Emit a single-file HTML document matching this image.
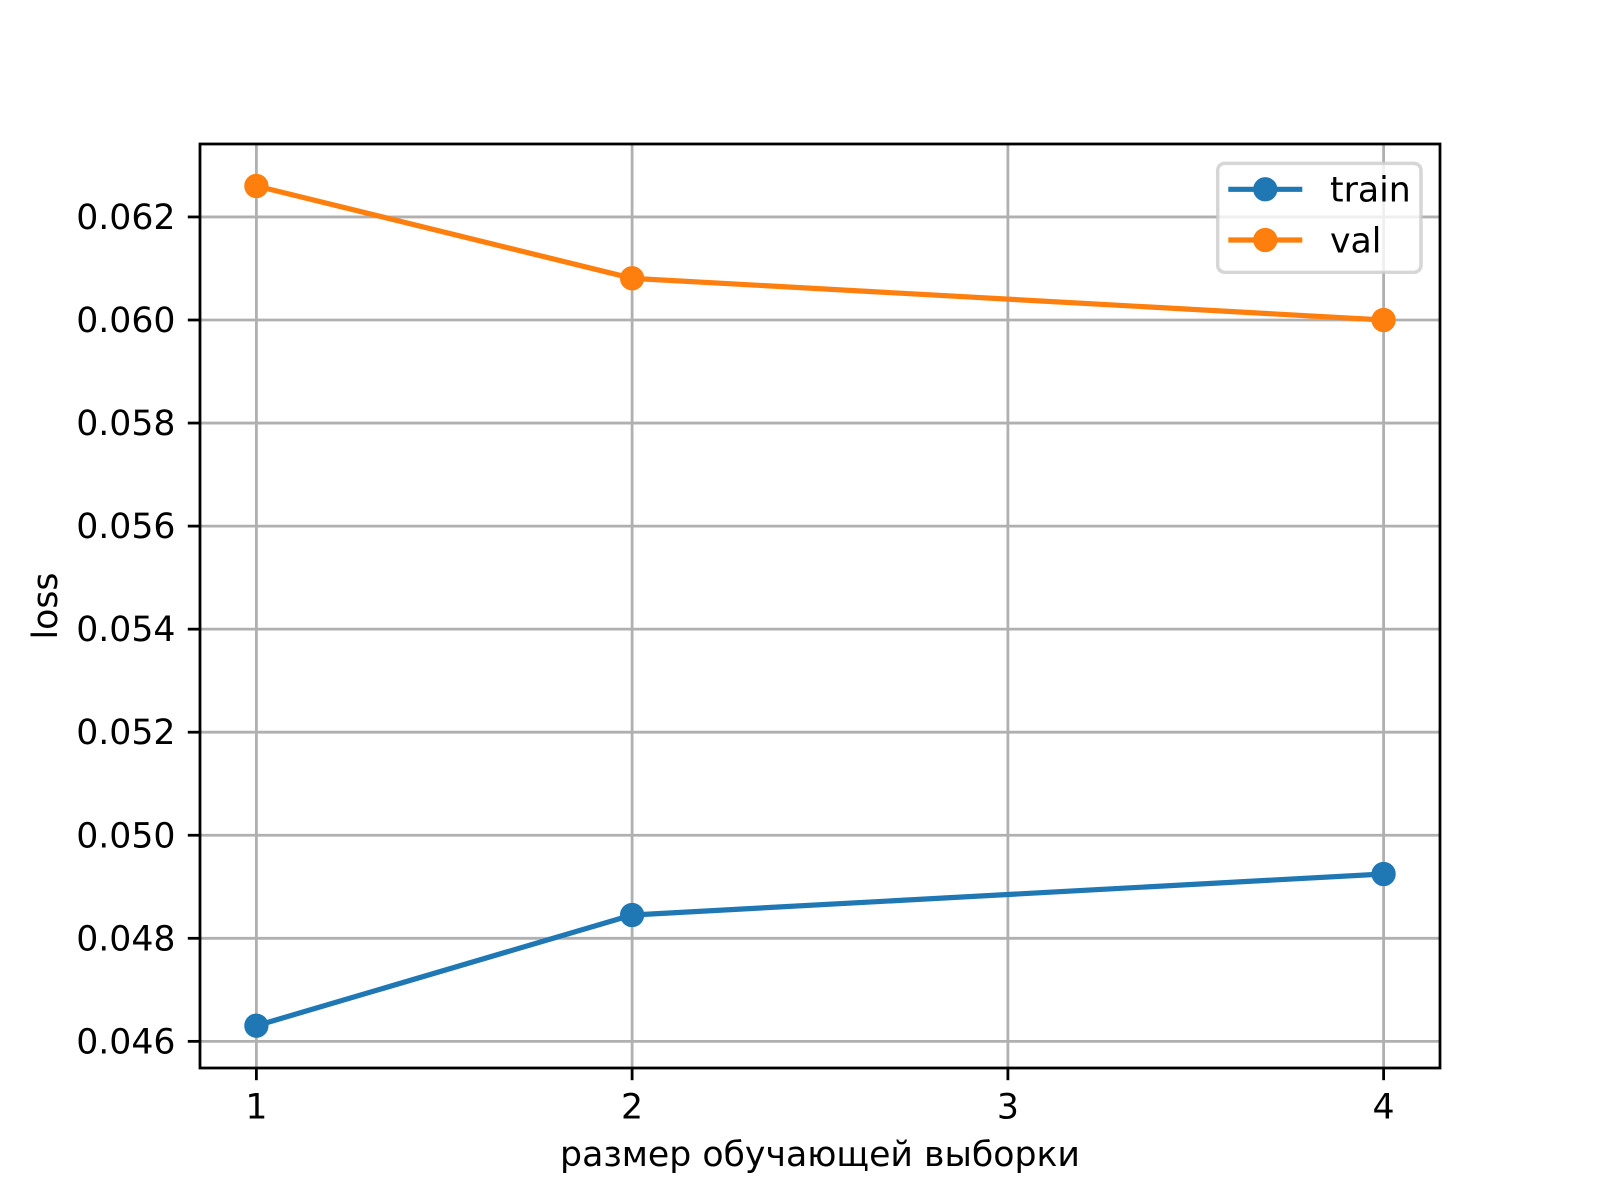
<!DOCTYPE html>
<html>
<head>
<meta charset="utf-8">
<style>
  html, body { margin: 0; padding: 0; background: #ffffff; }
  svg { display: block; }
  text { font-family: "DejaVu Sans", "Liberation Sans", sans-serif; fill: #000; }
</style>
</head>
<body>
<svg width="1600" height="1200" viewBox="0 0 1600 1200" xmlns="http://www.w3.org/2000/svg">
  <rect x="0" y="0" width="1600" height="1200" fill="#ffffff"/>
  <!-- axes background -->
  <rect x="200" y="144" width="1240" height="924" fill="#ffffff"/>

  <!-- grid lines -->
  <g stroke="#b0b0b0" stroke-width="2.78" fill="none">
    <line x1="256.4" y1="144" x2="256.4" y2="1068"/>
    <line x1="632.1" y1="144" x2="632.1" y2="1068"/>
    <line x1="1007.9" y1="144" x2="1007.9" y2="1068"/>
    <line x1="1383.6" y1="144" x2="1383.6" y2="1068"/>
    <line x1="200" y1="216.95" x2="1440" y2="216.95"/>
    <line x1="200" y1="320" x2="1440" y2="320"/>
    <line x1="200" y1="423.05" x2="1440" y2="423.05"/>
    <line x1="200" y1="526.1" x2="1440" y2="526.1"/>
    <line x1="200" y1="629.15" x2="1440" y2="629.15"/>
    <line x1="200" y1="732.2" x2="1440" y2="732.2"/>
    <line x1="200" y1="835.25" x2="1440" y2="835.25"/>
    <line x1="200" y1="938.3" x2="1440" y2="938.3"/>
    <line x1="200" y1="1041.35" x2="1440" y2="1041.35"/>
  </g>

  <!-- train series -->
  <polyline points="256.4,1025.7 632.1,915 1383.6,874" fill="none" stroke="#1f77b4" stroke-width="5.2" stroke-linejoin="round"/>
  <g fill="#1f77b4" stroke="#1f77b4" stroke-width="3.47">
    <circle cx="256.4" cy="1025.7" r="10.4"/>
    <circle cx="632.1" cy="915" r="10.4"/>
    <circle cx="1383.6" cy="874" r="10.4"/>
  </g>

  <!-- val series -->
  <polyline points="256.4,186 632.1,278.3 1383.6,320" fill="none" stroke="#ff7f0e" stroke-width="5.2" stroke-linejoin="round"/>
  <g fill="#ff7f0e" stroke="#ff7f0e" stroke-width="3.47">
    <circle cx="256.4" cy="186" r="10.4"/>
    <circle cx="632.1" cy="278.3" r="10.4"/>
    <circle cx="1383.6" cy="320" r="10.4"/>
  </g>

  <!-- spines -->
  <rect x="200" y="144" width="1240" height="924" fill="none" stroke="#000" stroke-width="2.78" stroke-linecap="square"/>

  <!-- ticks -->
  <g stroke="#000" stroke-width="2.78">
    <line x1="256.4" y1="1068" x2="256.4" y2="1080.2"/>
    <line x1="632.1" y1="1068" x2="632.1" y2="1080.2"/>
    <line x1="1007.9" y1="1068" x2="1007.9" y2="1080.2"/>
    <line x1="1383.6" y1="1068" x2="1383.6" y2="1080.2"/>
    <line x1="187.8" y1="216.95" x2="200" y2="216.95"/>
    <line x1="187.8" y1="320" x2="200" y2="320"/>
    <line x1="187.8" y1="423.05" x2="200" y2="423.05"/>
    <line x1="187.8" y1="526.1" x2="200" y2="526.1"/>
    <line x1="187.8" y1="629.15" x2="200" y2="629.15"/>
    <line x1="187.8" y1="732.2" x2="200" y2="732.2"/>
    <line x1="187.8" y1="835.25" x2="200" y2="835.25"/>
    <line x1="187.8" y1="938.3" x2="200" y2="938.3"/>
    <line x1="187.8" y1="1041.35" x2="200" y2="1041.35"/>
  </g>

  <!-- x tick labels -->
  <g font-size="34.7" text-anchor="middle">
    <text x="256.4" y="1118.5">1</text>
    <text x="632.1" y="1118.5">2</text>
    <text x="1007.9" y="1118.5">3</text>
    <text x="1383.6" y="1118.5">4</text>
  </g>

  <!-- y tick labels -->
  <g font-size="34.7" text-anchor="end">
    <text x="175.5" y="229">0.062</text>
    <text x="175.5" y="332">0.060</text>
    <text x="175.5" y="435">0.058</text>
    <text x="175.5" y="538.1">0.056</text>
    <text x="175.5" y="641.2">0.054</text>
    <text x="175.5" y="744.2">0.052</text>
    <text x="175.5" y="847.3">0.050</text>
    <text x="175.5" y="950.3">0.048</text>
    <text x="175.5" y="1053.4">0.046</text>
  </g>

  <!-- axis labels -->
  <text x="820" y="1166" font-size="34.7" text-anchor="middle">размер обучающей выборки</text>
  <text x="0" y="0" font-size="34.7" text-anchor="middle" transform="translate(57,606) rotate(-90)">loss</text>

  <!-- legend -->
  <rect x="1217.7" y="163.4" width="203.3" height="108.9" rx="6.9" ry="6.9" fill="#ffffff" fill-opacity="0.8" stroke="#cccccc" stroke-opacity="0.8" stroke-width="3.47"/>
  <line x1="1228.3" y1="189.3" x2="1302.3" y2="189.3" stroke="#1f77b4" stroke-width="5.2"/>
  <circle cx="1265.3" cy="189.3" r="10.4" fill="#1f77b4" stroke="#1f77b4" stroke-width="3.47"/>
  <line x1="1228.3" y1="240" x2="1302.3" y2="240" stroke="#ff7f0e" stroke-width="5.2"/>
  <circle cx="1265.3" cy="240" r="10.4" fill="#ff7f0e" stroke="#ff7f0e" stroke-width="3.47"/>
  <text x="1330" y="201.7" font-size="34.7">train</text>
  <text x="1330" y="252.5" font-size="34.7">val</text>
</svg>
</body>
</html>
